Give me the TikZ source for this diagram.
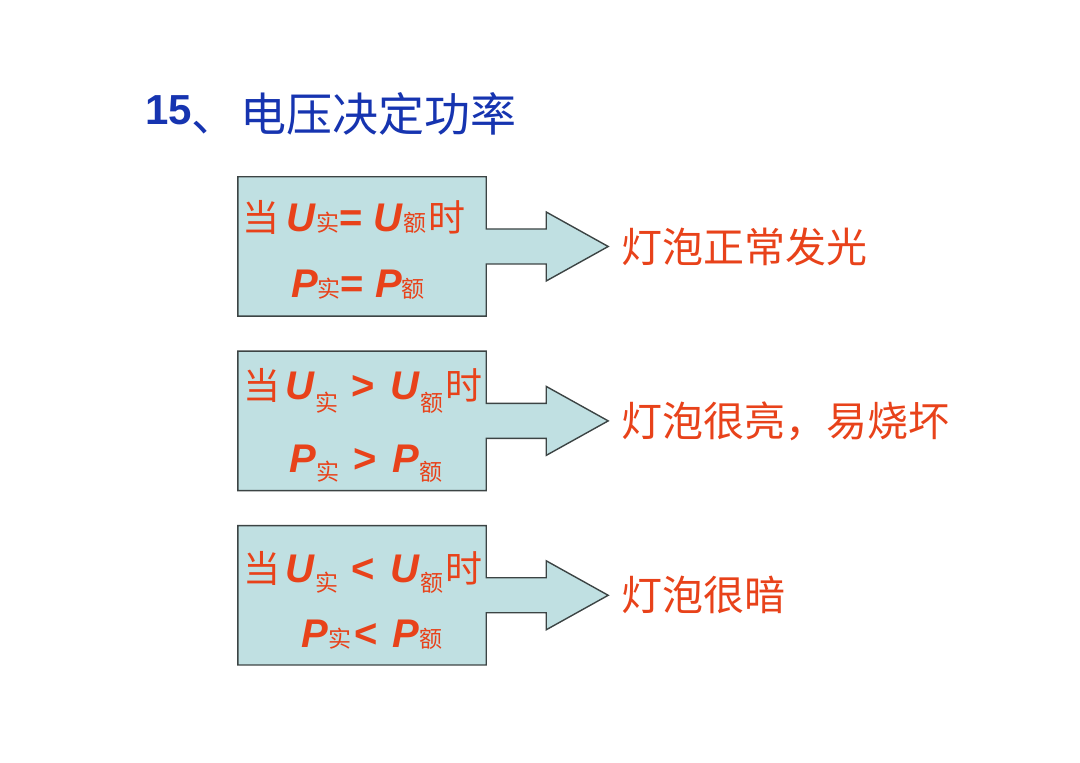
\documentclass[tikz,border=0pt]{standalone}
\usepackage{fontspec}
\setmainfont{Liberation Sans}
\newfontfamily\cjk{Noto Sans CJK SC}
\usepackage{tikz}
\usetikzlibrary{positioning,backgrounds}

\definecolor{titleblue}{RGB}{22,52,176}
\definecolor{warmred}{RGB}{232,66,26}
\definecolor{boxfill}{RGB}{192,224,226}
\definecolor{boxline}{RGB}{60,68,68}

% CJK in the box lines, subscripts, bold-italic symbols
\newcommand\zh[1]{{\fontsize{37}{37}\selectfont\mdseries\cjk #1}}
\newcommand\sbz[2]{\raisebox{#1}{\fontsize{23}{23}\selectfont\mdseries\cjk #2}}
\newcommand\bi[1]{\textit{#1}}

\begin{document}
\begin{tikzpicture}[node distance=35pt,
  condbox/.style={rectangle, minimum width=248pt, minimum height=139pt, inner sep=0pt},
  callout/.style={draw=boxline, line width=1.4pt, fill=boxfill, line join=miter},
  condline/.style={text=warmred, font=\fontsize{40}{40}\selectfont\bfseries, inner sep=0pt, anchor=base},
  result/.style={text=warmred, font=\fontsize{41}{41}\selectfont\cjk, inner sep=0pt},
  title/.style={text=titleblue, font=\fontsize{42}{42}\selectfont, inner sep=0pt, anchor=base west}]
\useasboundingbox (0,0) rectangle (1080pt,763pt);

\node[title] (head) at (145pt,638pt) {\textbf{15}\raisebox{-7pt}{\fontsize{46}{46}\selectfont\cjk 、\hspace{3pt}电压决定功率}};

\node[condbox] (b1) at (362pt,516.5pt) {};
\node[condbox] (b2) [below=of b1] {};
\node[condbox] (b3) [below=of b2] {};

\begin{scope}[on background layer]
\draw[callout] (b1.north west) -- (b1.north east) -- ([yshift=17.5pt]b1.east) -- ++(60pt,0pt) -- ++(0pt,17pt)
  -- ([xshift=122pt]b1.east) coordinate (tip1) -- ++(-62pt,-34.5pt) -- ++(0pt,17pt)
  -- ([yshift=-17.5pt]b1.east) -- (b1.south east) -- (b1.south west) -- cycle;
\draw[callout] (b2.north west) -- (b2.north east) -- ([yshift=17.5pt]b2.east) -- ++(60pt,0pt) -- ++(0pt,17pt)
  -- ([xshift=122pt]b2.east) coordinate (tip2) -- ++(-62pt,-34.5pt) -- ++(0pt,17pt)
  -- ([yshift=-17.5pt]b2.east) -- (b2.south east) -- (b2.south west) -- cycle;
\draw[callout] (b3.north west) -- (b3.north east) -- ([yshift=17.5pt]b3.east) -- ++(60pt,0pt) -- ++(0pt,17pt)
  -- ([xshift=122pt]b3.east) coordinate (tip3) -- ++(-62pt,-34.5pt) -- ++(0pt,17pt)
  -- ([yshift=-17.5pt]b3.east) -- (b3.south east) -- (b3.south west) -- cycle;
\end{scope}

\node[condline] (c1a) at ([xshift=-8pt,yshift=14.5pt]b1.center) {\zh{当}\hspace{7pt}\bi{U}\sbz{0pt}{实}= \bi{U}\sbz{0pt}{额}\hspace{2pt}\zh{时}};
\node[condline] (c1b) at ([xshift=-4pt,yshift=-51.5pt]b1.center) {\bi{P}\sbz{0pt}{实}= \bi{P}\sbz{0pt}{额}};
\node[condline] (c2a) at ([xshift=1pt,yshift=21.5pt]b2.center) {\zh{当}\hspace{5pt}\bi{U}\sbz{-12pt}{实}\hspace{2pt} > \hspace{5pt}\bi{U}\sbz{-12pt}{额}\hspace{2pt}\zh{时}};
\node[condline] (c2b) at ([xshift=4pt,yshift=-51.5pt]b2.center) {\bi{P}\sbz{-8pt}{实}\hspace{3pt} > \hspace{4pt}\bi{P}\sbz{-8pt}{额}};
\node[condline] (c3a) at ([xshift=1pt,yshift=13pt]b3.center) {\zh{当}\hspace{5pt}\bi{U}\sbz{-9pt}{实}\hspace{2pt} < \hspace{5pt}\bi{U}\sbz{-9pt}{额}\hspace{2pt}\zh{时}};
\node[condline] (c3b) at ([xshift=10pt,yshift=-52pt]b3.center) {\bi{P}\sbz{0pt}{实}\hspace{3pt}< \hspace{4pt}\bi{P}\sbz{0pt}{额}};

\node[result] (r1) [right=13pt of tip1] {灯泡正常发光};
\node[result] (r2) [right=13pt of tip2] {灯泡很亮，易烧坏};
\node[result] (r3) [right=13pt of tip3] {灯泡很暗};
\end{tikzpicture}
\end{document}
